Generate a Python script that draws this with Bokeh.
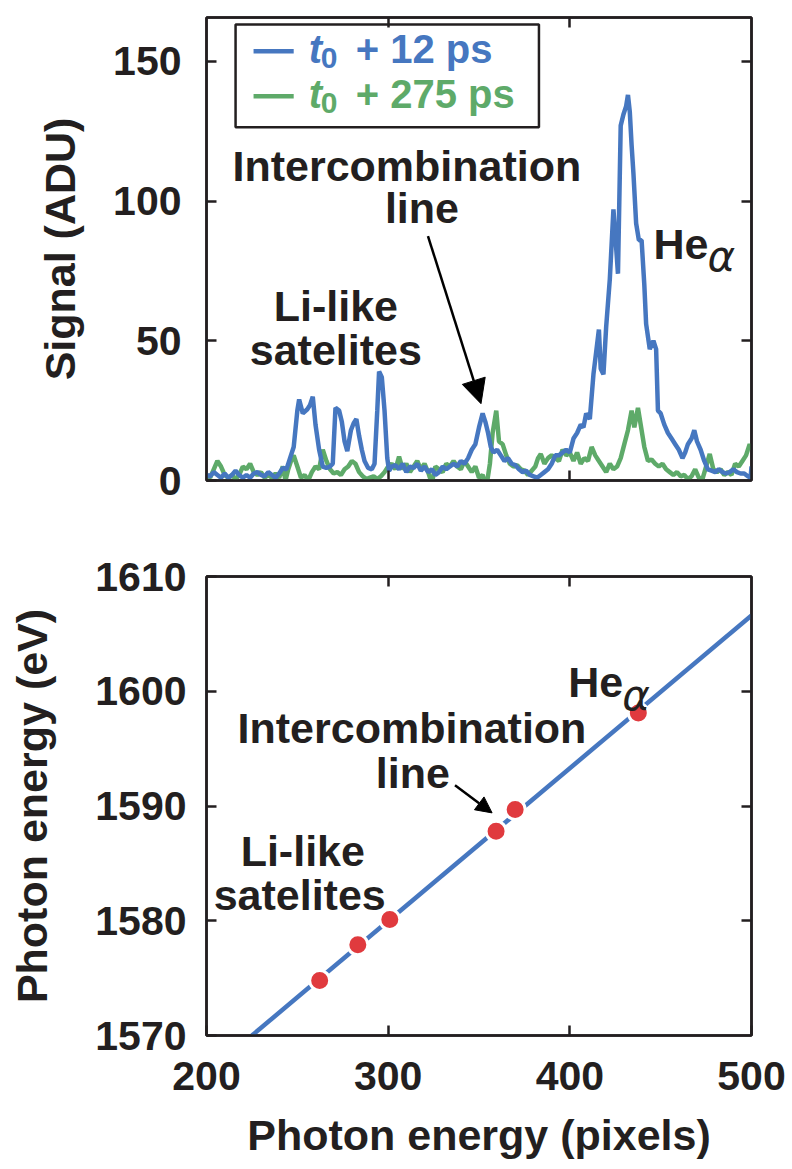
from bokeh.plotting import figure
from bokeh.layouts import column
from bokeh.models import (FixedTicker, LinearAxis, BoxAnnotation, Arrow, NormalHead, Range1d)
from bokeh.core.properties import value
from bokeh.embed import file_html
from bokeh.resources import INLINE

# ---- spectra (detector pixel vs signal in ADU) ----
early_px = [200, 202, 204, 206, 208, 210, 212, 214, 216, 218, 220, 222, 224, 226, 228, 230,
            232, 234, 236, 238, 240, 242, 244, 246, 248, 250, 251, 253, 255.5, 257, 258.5,
            260, 262, 264, 266, 268, 269.5, 271, 273, 274.5, 276, 277.5, 279.5, 281, 282.5,
            284, 285.5, 287, 289, 291, 292.5, 294, 295, 296.5, 298, 299.5, 300.5, 302, 304,
            306, 308, 310, 312, 314, 316, 318, 320, 322, 324, 326, 328, 330, 332, 334, 336,
            338, 340, 342, 344, 346, 348, 350, 352, 353.5, 355, 356.5, 358, 360, 362, 364,
            366, 368, 370, 372, 374, 376, 378, 380, 382, 384, 386, 388, 390, 392, 394, 396,
            398, 400, 402, 404, 406, 407.5, 409, 411, 413, 414.5, 416, 417, 418.5, 420, 422,
            424, 425, 426.5, 428, 429.5, 431, 432, 433, 434, 435, 436.5, 438, 439.5, 441,
            442, 444, 446, 447.5, 448.5, 450, 452, 454, 456, 458, 460, 462, 463.5, 465, 467,
            468.5, 470, 472, 474, 476, 478, 480, 482, 484, 486, 488, 490, 492, 494, 496, 498,
            499.5, 500]
early_adu = [2, 1.5, 3, 2, 1, 2.5, 1, 2, 3.5, 2, 1, 2, 1, 2.5, 3, 2,
             1.5, 3, 2, 1, 2.5, 4.5, 4, 8, 12, 25, 29, 24, 25.5, 27, 30,
             20, 11, 5, 4.5, 5, 6, 26, 25, 21, 14, 10.5, 18, 20.5, 22,
             16, 11, 7, 4.5, 4, 6, 25, 39, 37, 25, 8, 3.5, 5, 5.5,
             4, 6, 3, 5, 4.5, 6, 3.5, 5, 3, 4, 2, 3, 5, 4, 5, 6,
             5, 7, 6, 8, 11, 13, 19, 24, 21, 17, 12, 10, 11, 9, 7,
             8, 6, 5.5, 4, 3, 3.5, 2, 1.5, 1, 2, 3, 4, 6, 9, 9, 10,
             11, 10, 15, 17, 20, 19, 24, 22, 38, 46, 54, 40, 38, 55, 72,
             97, 88, 74, 127, 131, 134, 138, 132, 120, 110, 92, 86, 86, 70,
             56, 47, 50, 47, 25, 24, 20, 17, 15, 13, 11, 8, 10, 13, 15,
             18, 14, 11, 7, 4, 3.5, 3, 4, 3, 2.5, 3, 4, 3, 2.5, 2.5, 1.5,
             1, 5]

late_px = [200, 202, 204, 206, 208, 210, 212, 214, 216, 218, 220, 222, 224, 226, 228, 230,
           232, 234, 236, 238, 240, 242, 243.5, 245, 246.5, 248, 250, 252, 254, 256, 258,
           260, 262, 264, 266, 268, 270, 272, 274, 276, 278, 280, 282, 284, 286, 288, 290,
           292, 294, 296, 298, 300, 302, 304, 306, 308, 310, 312, 314, 316, 318, 320, 322,
           324, 326, 328, 330, 332, 334, 336, 338, 340, 342, 344, 346, 348, 350, 352, 354,
           356, 357.5, 359.5, 361, 363, 365, 367, 369, 371, 373, 375, 377, 379, 381, 382.5,
           384, 386, 388, 390, 392, 394, 396, 398, 400, 402, 404, 406, 408, 410, 412, 414,
           416, 418, 420, 422, 424, 426, 428, 430, 432, 434, 435.5, 437.5, 439, 441, 443,
           445, 447, 449, 451, 453, 455, 457, 459, 461, 463, 465, 467, 469, 471, 473, 475,
           477, 479, 481, 483, 485, 487, 489, 491, 493, 495, 497, 499, 500]
late_adu = [2, 1, 4, 7, 5, 2, 1, 2, 0.5, 2, 5, 4, 6, 3, 2, 3,
            1, 2, 1, 2.5, 1, 5, 0, 4, 7, 9, 5, 1, 2, 0, 3,
            5, 4, 11, 7, 4, 2.5, 3, 2, 4, 5, 7, 6, 3, 1.5, 0.5, 1,
            1.5, 0.5, 1.5, 3, 5, 6, 4, 8.5, 4, 6, 3, 5, 7, 4, 6, 3,
            -1, 5, 4, 3, 6, 5, 7, 5, 4, 7, 5, 3, 5, 1, 2, -2.5,
            6, 17, 25, 14, 13, 9, 6, 5, 5.5, 4, 3.5, 2, 3.5, 5, 8,
            9.5, 6, 8, 9, 8, 7, 11, 9, 10, 7, 10, 6, 8, 7, 12, 9,
            7, 5, 3, 6, 4, 5, 8, 13, 18, 25, 19, 26, 20, 12, 7,
            7.5, 6, 5, 6, 4, 3, 2, 3, 1.5, 2, 0.5, 1.5, 4, 1, 0.5, 5,
            9.5, 4, 3, 4, 2, 3, 2, 6, 5, 7, 9, 13, 11]

# ---- pixel-to-energy calibration ----
calib_px = [225, 500]
calib_ev = [1570.0, 1606.6]
lines_px = [262.3, 283.3, 300.9, 359.4, 369.9, 437.7]
lines_ev = [1574.8, 1577.9, 1580.1, 1587.8, 1589.7, 1598.1]

BLUE = "#4677c0"
GREEN = "#5eaa69"
RED = "#e03a3e"
INK = "#231f20"
FONT = "Liberation Sans"
W = 792
TICK_SIZE = "41px"
TEXT_SIZE = "43px"


def style_axis(ax, ticks, labels=True):
    ax.ticker = FixedTicker(ticks=ticks, minor_ticks=[])
    ax.major_tick_in = 10
    ax.major_tick_out = 0
    ax.major_tick_line_width = 2.5
    ax.major_tick_line_color = INK
    ax.minor_tick_line_color = None
    ax.axis_line_width = 2.5
    ax.axis_line_color = INK
    ax.major_label_text_font = FONT
    ax.major_label_text_font_style = "bold"
    if labels:
        ax.major_label_text_color = INK
        ax.major_label_text_font_size = TICK_SIZE
    else:
        # tick marks only, no numbers
        ax.major_label_text_color = None
        ax.major_label_text_font_size = "2px"
    ax.axis_label_text_font = FONT
    ax.axis_label_text_font_style = "bold"
    ax.axis_label_text_font_size = TEXT_SIZE
    ax.axis_label_text_color = INK


def base_figure(height, x_range, y_range, border_top, border_bottom):
    p = figure(width=W, height=height, x_range=x_range, y_range=y_range,
               output_backend="svg", toolbar_location=None,
               min_border_left=206, min_border_right=41,
               min_border_top=border_top, min_border_bottom=border_bottom)
    p.grid.visible = False
    p.outline_line_color = INK
    p.outline_line_width = 2.5
    p.background_fill_color = "white"
    p.border_fill_color = "white"
    return p


def add_text(p, x, y, text, size=TEXT_SIZE, align="center", style="bold", color=INK,
             font=FONT, x_offset=0, y_offset=0):
    p.text(x=[x], y=[y], text=[text], text_font=value(font), text_font_size=size,
           text_font_style=style, text_color=color, text_align=align,
           text_baseline="alphabetic", x_offset=x_offset, y_offset=y_offset)


def add_he_alpha(p, x, y):
    add_text(p, x, y, "He", align="left")
    add_text(p, x, y, "\u03b1", size="42px", align="left", style="italic",
             font="DejaVu Sans", x_offset=54, y_offset=13)


# ================= top: spectra =================
top = base_figure(530, Range1d(200, 500), Range1d(0, 165.7), 17, 50)
style_axis(top.below[0], [300, 400], labels=False)
style_axis(top.left[0], [0, 50, 100, 150])
top.left[0].major_label_standoff = 25
top.left[0].axis_label = "Signal (ADU)"
top.left[0].axis_label_standoff = 26
for loc, ticks in (("above", [300, 400]), ("right", [50, 100, 150])):
    ax = LinearAxis()
    style_axis(ax, ticks, labels=False)
    top.add_layout(ax, loc)

top.line(late_px, late_adu, line_color=GREEN, line_width=4.5)
top.line(early_px, early_adu, line_color=BLUE, line_width=4.5)

# legend box with two coloured entries
top.add_layout(BoxAnnotation(left=216, right=383, bottom=126.4, top=163.2,
                             fill_color="white", fill_alpha=1, line_color=INK,
                             line_alpha=1, line_width=2.5, level="underlay"))
for color, ly, by, txt in ((BLUE, 153.6, 154.4, "+ 12 ps"), (GREEN, 137.5, 138.4, "+ 275 ps")):
    top.line([225.9, 248.0], [ly, ly], line_color=color, line_width=4.5)
    add_text(top, 256.3, by, "t", size="40px", align="left", style="bold italic", color=color)
    add_text(top, 256.3, by, "0", size="30px", align="left", color=color, x_offset=12, y_offset=9)
    add_text(top, 256.3, by, txt, size="40px", align="left", color=color, x_offset=47)

add_text(top, 310.3, 112.6, "Intercombination")
add_text(top, 318.6, 97.6, "line")
add_text(top, 271.2, 62.6, "Li-like")
add_text(top, 271.2, 46.6, "satelites")
add_he_alpha(top, 446.0, 84.8)
top.add_layout(Arrow(end=NormalHead(size=24, fill_color="black", line_color="black"),
                     x_start=321.9, y_start=87.5, x_end=351.1, y_end=27.5,
                     line_color="black", line_width=2.5))

# ================= bottom: calibration =================
bottom = base_figure(639, Range1d(200, 500), Range1d(1570, 1610), 46, 134)
style_axis(bottom.below[0], [200, 300, 400, 500])
bottom.below[0].major_label_standoff = 26
bottom.below[0].axis_label = "Photon energy (pixels)"
bottom.below[0].axis_label_standoff = 18
style_axis(bottom.left[0], [1570, 1580, 1590, 1600, 1610])
bottom.left[0].major_label_standoff = 20
bottom.left[0].axis_label = "Photon energy (eV)"
bottom.left[0].axis_label_standoff = 36
for loc, ticks in (("above", [300, 400]), ("right", [1580, 1590, 1600])):
    ax = LinearAxis()
    style_axis(ax, ticks, labels=False)
    bottom.add_layout(ax, loc)

bottom.line(calib_px, calib_ev, line_color=BLUE, line_width=4.5)
bottom.scatter(lines_px, lines_ev, size=20, fill_color=RED, line_color="white", line_width=3)

add_he_alpha(bottom, 399.1, 1600.8)
add_text(bottom, 313.1, 1596.8, "Intercombination")
add_text(bottom, 313.6, 1592.85, "line")
add_text(bottom, 253.0, 1586.05, "Li-like")
add_text(bottom, 251.3, 1582.25, "satelites")
bottom.add_layout(Arrow(end=NormalHead(size=16, fill_color="black", line_color="black"),
                        x_start=336.8, y_start=1591.8, x_end=357.2, y_end=1589.4,
                        line_color="black", line_width=2.5))

layout = column(top, bottom)
open("out.html", "w").write(file_html(layout, INLINE))
